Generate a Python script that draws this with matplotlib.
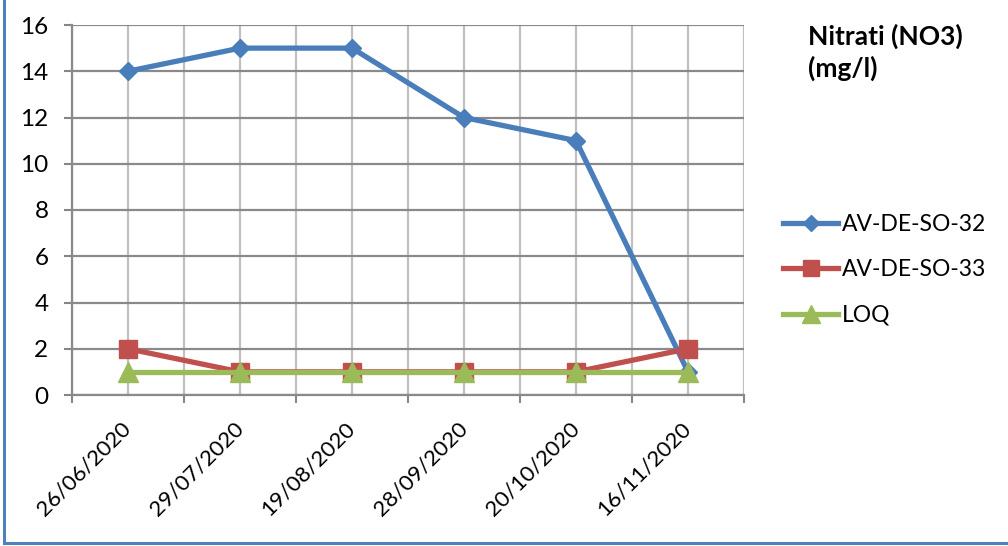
import matplotlib
matplotlib.use("Agg")
import matplotlib.pyplot as plt
from matplotlib.lines import Line2D
import numpy as np

plt.rcParams['font.family'] = ['Lato', 'DejaVu Sans']

dates = ['26/06/2020', '29/07/2020', '19/08/2020', '28/09/2020', '20/10/2020', '16/11/2020']
so32 = [14, 15, 15, 12, 11, 1]
so33 = [2, 1, 1, 1, 1, 2]
loq = [1, 1, 1, 1, 1, 1]

fig = plt.figure(figsize=(10.08, 5.46), dpi=100)
ax = fig.add_axes([72/1008, 1 - 395/546, (744 - 72)/1008, (395 - 25)/546])

x = np.arange(len(dates))
ax.plot(x, so32, color='#4a7ebb', lw=3.8, marker='D', ms=9.5, label='AV-DE-SO-32')
ax.plot(x, so33, color='#c0504d', lw=3.8, marker='s', ms=13.5, label='AV-DE-SO-33')
ax.plot(x, loq, color='#9bbb59', lw=3.8, marker='^', ms=15, label='LOQ')

ax.set_xlim(-0.5, len(dates) - 0.5)
ax.set_ylim(0, 16)
ax.set_yticks(range(0, 17, 2))

# tick marks at category boundaries, labels at category centres
ax.set_xticks(np.arange(-0.5, len(dates), 1.0))
ax.set_xticklabels([])
ax.set_xticks(x, minor=True)
ax.set_xticklabels(dates, minor=True, rotation=45, ha='right', va='center',
                   rotation_mode='anchor', fontsize=16)
ax.tick_params(axis='x', which='minor', length=0, pad=22)
ax.tick_params(axis='x', which='major', length=6, width=1.5, color='#868686', direction='out')
ax.tick_params(axis='y', length=6, width=1.5, color='#868686', labelsize=17.5, pad=11)

ax.grid(axis='y', color='#8a8a8a', lw=1.6)
ax.grid(axis='x', which='both', color='#c0c0c0', lw=1.6)
ax.set_axisbelow(True)

for s in ['top', 'right']:
    ax.spines[s].set_visible(False)
for s in ['left', 'bottom']:
    ax.spines[s].set_color('#8a8a8a')
    ax.spines[s].set_linewidth(1.6)

fig.text(808/1008, 1 - 24/546, 'Nitrati (NO3)\n(mg/l)', fontsize=19, fontweight='bold',
         ha='left', va='top', linespacing=1.3)

ax.legend(loc='center left', bbox_to_anchor=(783/1008, 1 - 270/546),
          bbox_transform=fig.transFigure, frameon=False, fontsize=16.5,
          handlelength=2.4, handletextpad=0.15, labelspacing=1.05, borderpad=0,
          borderaxespad=0, markerscale=0.85)

# outer chart border (left and bottom visible)
fig.add_artist(Line2D([4/1008, 4/1008], [1 - 543/546, 1.0], transform=fig.transFigure,
                      color='#4f81bd', lw=2.2))
fig.add_artist(Line2D([4/1008, 1.0], [1 - 543/546, 1 - 543/546], transform=fig.transFigure,
                      color='#4f81bd', lw=2.2))

fig.savefig('out.png', dpi=100)
